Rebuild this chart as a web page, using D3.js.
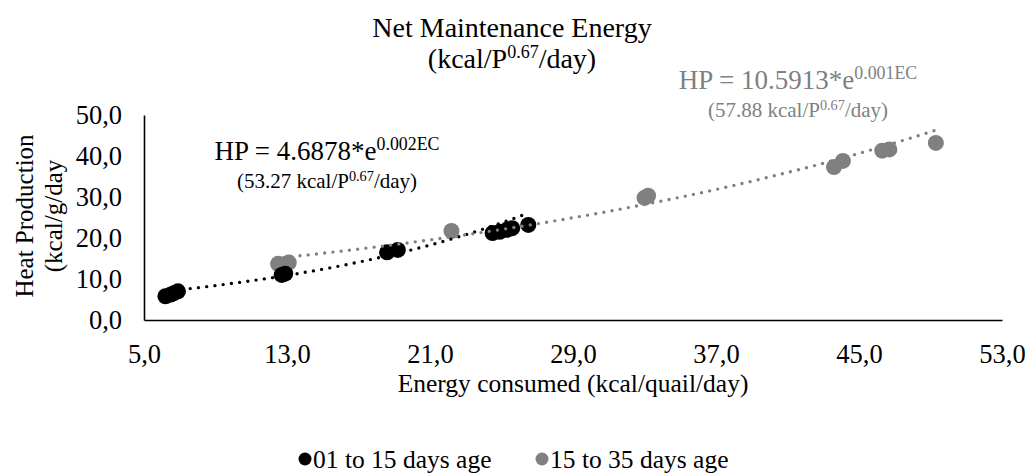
<!DOCTYPE html>
<html>
<head>
<meta charset="utf-8">
<script src="https://cdn.jsdelivr.net/npm/d3@7"></script>
<style>
  body { margin: 0; background: #fff; }
  text { font-family: "Liberation Serif", "Times New Roman", serif; }
</style>
</head>
<body>
<svg width="1032" height="474"></svg>
<script>
// data
var youngEC = [6.2, 6.5, 6.7, 6.9, 12.7, 12.9, 18.6, 19.2, 24.5, 24.9, 25.3, 25.6, 26.5];
var youngHP = [5.8, 6.2, 6.6, 7.0, 11.0, 11.3, 16.5, 17.1, 21.2, 21.5, 22.0, 22.4, 23.2];
var oldEC = [12.5, 13.1, 22.2, 33.0, 33.2, 43.6, 44.1, 46.3, 46.7, 49.3];
var oldHP = [13.7, 14.0, 21.7, 29.8, 30.3, 37.3, 38.8, 41.3, 41.6, 43.2];
var xTicks = [5, 13, 21, 29, 37, 45, 53];
var yTicks = [0, 10, 20, 30, 40, 50];
var seriesNames = ["01 to 15 days age", "15 to 35 days age"];
var seriesColors = ["#000000", "#808080"];

// exponential trendlines drawn as a * e^(k*x)
var youngFit = { a: 4.6878, k: 0.0648, from: 6.2, to: 26.3 };
var oldFit = { a: 10.3, k: 0.0305, from: 12.8, to: 49.6 };

var svg = d3.select("svg");

var x = d3.scaleLinear().domain([5, 53]).range([144, 1002]);
var y = d3.scaleLinear().domain([0, 50]).range([320, 115]);

var fmt = function(d) { return d3.format(".1f")(d).replace(".", ","); };

// axes
var xAxis = svg.append("g")
    .attr("transform", "translate(0,320)")
    .call(d3.axisBottom(x).tickValues(xTicks).tickSize(0).tickPadding(24).tickFormat(fmt));
var yAxis = svg.append("g")
    .attr("transform", "translate(144,0)")
    .call(d3.axisLeft(y).tickValues(yTicks).tickSize(0).tickPadding(22).tickFormat(fmt));

[xAxis, yAxis].forEach(function(g) {
    g.select(".domain").attr("stroke", "#000").attr("stroke-width", 1.6);
    g.selectAll("text")
        .attr("font-size", 26.5)
        .attr("fill", "#000")
        .style("font-family", "Liberation Serif, serif");
});

// points
function drawPoints(xs, ys, color) {
    svg.append("g")
        .selectAll("circle")
        .data(xs)
        .enter().append("circle")
        .attr("cx", function(d) { return x(d); })
        .attr("cy", function(d, i) { return y(ys[i]); })
        .attr("r", 8)
        .attr("fill", color);
}
drawPoints(oldEC, oldHP, seriesColors[1]);
drawPoints(youngEC, youngHP, seriesColors[0]);

// trendlines
function drawTrend(fit, color) {
    var pts = d3.range(fit.from, fit.to + 0.01, 0.2).map(function(v) {
        return [v, fit.a * Math.exp(fit.k * v)];
    });
    svg.append("path")
        .datum(pts)
        .attr("fill", "none")
        .attr("stroke", color)
        .attr("stroke-width", 3.4)
        .attr("stroke-linecap", "round")
        .attr("stroke-dasharray", "0,8.3")
        .attr("d", d3.line().x(function(d) { return x(d[0]); }).y(function(d) { return y(d[1]); }));
}
drawTrend(youngFit, seriesColors[0]);
drawTrend(oldFit, seriesColors[1]);

// title
var title = svg.append("text")
    .attr("text-anchor", "middle")
    .attr("font-size", 28)
    .attr("fill", "#000");
title.append("tspan").attr("x", 512).attr("y", 37).text("Net Maintenance Energy");
var t2 = title.append("tspan").attr("x", 512).attr("y", 68);
t2.append("tspan").text("(kcal/P");
t2.append("tspan").attr("font-size", 18).attr("dy", -10).text("0.67");
t2.append("tspan").attr("dy", 10).text("/day)");

// equation labels
function equation(xc, yy, coef, expo, note, color, big, small) {
    var t = svg.append("text")
        .attr("x", xc).attr("y", yy)
        .attr("text-anchor", "middle")
        .attr("fill", color)
        .attr("font-size", big);
    t.append("tspan").text("HP = " + coef + "*e");
    t.append("tspan").attr("font-size", big * 0.66).attr("dy", -10).text(expo);
    var n = svg.append("text")
        .attr("x", xc).attr("y", yy + 28)
        .attr("text-anchor", "middle")
        .attr("fill", color)
        .attr("font-size", small);
    n.append("tspan").text("(" + note + " kcal/P");
    n.append("tspan").attr("font-size", small * 0.68).attr("dy", -7).text("0.67");
    n.append("tspan").attr("dy", 7).text("/day)");
}
equation(327, 160, "4.6878", "0.002EC", "53.27", "#000", 27, 21);
equation(798, 89, "10.5913", "0.001EC", "57.88", "#808080", 27, 21);

// axis titles
svg.append("text")
    .attr("transform", "translate(33,216) rotate(-90)")
    .attr("text-anchor", "middle")
    .attr("font-size", 25)
    .text("Heat Production");
svg.append("text")
    .attr("transform", "translate(62,216) rotate(-90)")
    .attr("text-anchor", "middle")
    .attr("font-size", 25)
    .text("(kcal/g/day");
svg.append("text")
    .attr("x", 573).attr("y", 392)
    .attr("text-anchor", "middle")
    .attr("font-size", 25.5)
    .text("Energy consumed (kcal/quail/day)");

// legend
var legend = svg.append("g")
    .selectAll("g")
    .data(seriesNames)
    .enter().append("g")
    .attr("transform", function(d, i) { return "translate(" + (305 + i * 237) + ",459)"; });
legend.append("circle")
    .attr("r", 6.5)
    .attr("fill", function(d, i) { return seriesColors[i]; });
legend.append("text")
    .attr("x", 8).attr("y", 8.5)
    .attr("font-size", 25.5)
    .text(function(d) { return d; });
</script>
</body>
</html>
